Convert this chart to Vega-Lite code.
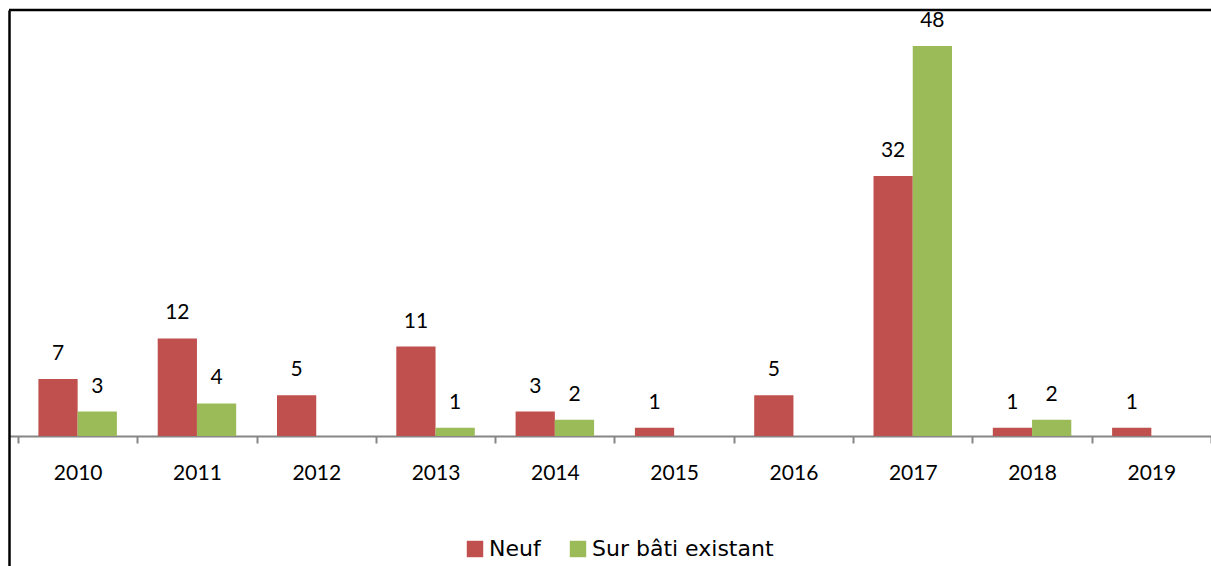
{
  "$schema": "https://vega.github.io/schema/vega-lite/v6.json",
  "width": 1202,
  "height": 556,
  "autosize": {"type": "none"},
  "padding": {"left": 9, "top": 10, "right": 0, "bottom": 0},
  "background": "white",
  "config": {
    "view": {"stroke": null},
    "font": "Lato"
  },
  "data": {
    "values": [
      {"year": "2010", "series": "Neuf", "value": 7},
      {"year": "2010", "series": "Sur bâti existant", "value": 3},
      {"year": "2011", "series": "Neuf", "value": 12},
      {"year": "2011", "series": "Sur bâti existant", "value": 4},
      {"year": "2012", "series": "Neuf", "value": 5},
      {"year": "2013", "series": "Neuf", "value": 11},
      {"year": "2013", "series": "Sur bâti existant", "value": 1},
      {"year": "2014", "series": "Neuf", "value": 3},
      {"year": "2014", "series": "Sur bâti existant", "value": 2},
      {"year": "2015", "series": "Neuf", "value": 1},
      {"year": "2016", "series": "Neuf", "value": 5},
      {"year": "2017", "series": "Neuf", "value": 32},
      {"year": "2017", "series": "Sur bâti existant", "value": 48},
      {"year": "2018", "series": "Neuf", "value": 1},
      {"year": "2018", "series": "Sur bâti existant", "value": 2},
      {"year": "2019", "series": "Neuf", "value": 1}
    ]
  },
  "layer": [
    {
      "mark": {"type": "bar"},
      "encoding": {
        "x": {
          "field": "year",
          "type": "nominal",
          "sort": null,
          "scale": {"paddingInner": 0, "paddingOuter": 0.0377, "align": 1},
          "axis": {
            "orient": "bottom",
            "offset": -130,
            "title": null,
            "labelAngle": 0,
            "labelFont": "Lato",
            "labelFontSize": 21,
            "labelColor": "#000000",
            "labelPadding": 19,
            "domainColor": "#868686",
            "domainWidth": 2,
            "tickColor": "#868686",
            "tickWidth": 2,
            "tickSize": 7,
            "tickBand": "extent",
            "grid": false
          }
        },
        "xOffset": {
          "field": "series",
          "type": "nominal",
          "scale": {"domain": ["Neuf", "Sur bâti existant"], "paddingInner": 0, "paddingOuter": 0.52}
        },
        "y": {
          "field": "value",
          "type": "quantitative",
          "scale": {"domain": [-16, 52.43], "nice": false, "zero": false},
          "axis": {
            "orient": "left",
            "title": null,
            "labels": false,
            "ticks": false,
            "grid": false,
            "domainColor": "#000000",
            "domainWidth": 2.5
          }
        },
        "color": {
          "field": "series",
          "type": "nominal",
          "scale": {"domain": ["Neuf", "Sur bâti existant"], "range": ["#C0504D", "#9BBB59"]},
          "legend": {
            "orient": "none",
            "direction": "horizontal",
            "legendX": 455,
            "legendY": 528,
            "title": null,
            "symbolType": "square",
            "symbolSize": 270,
            "symbolStrokeWidth": 0,
            "symbolOpacity": 1,
            "labelFont": "DejaVu Sans",
            "labelFontSize": 22,
            "labelLimit": 500,
            "labelColor": "#000000",
            "labelOffset": 3,
            "columnPadding": 26,
            "padding": 0
          }
        }
      }
    },
    {
      "mark": {"type": "text", "baseline": "alphabetic", "dy": -19, "fontSize": 21, "font": "Lato", "color": "#000000"},
      "encoding": {
        "x": {"field": "year", "type": "nominal", "sort": null},
        "xOffset": {"field": "series", "type": "nominal"},
        "y": {"field": "value", "type": "quantitative"},
        "text": {"field": "value", "type": "quantitative"}
      }
    },
    {
      "data": {"values": [{"top": 52.43}]},
      "mark": {"type": "rule", "color": "#000000", "strokeWidth": 2.5},
      "encoding": {
        "y": {"field": "top", "type": "quantitative"}
      }
    }
  ]
}
